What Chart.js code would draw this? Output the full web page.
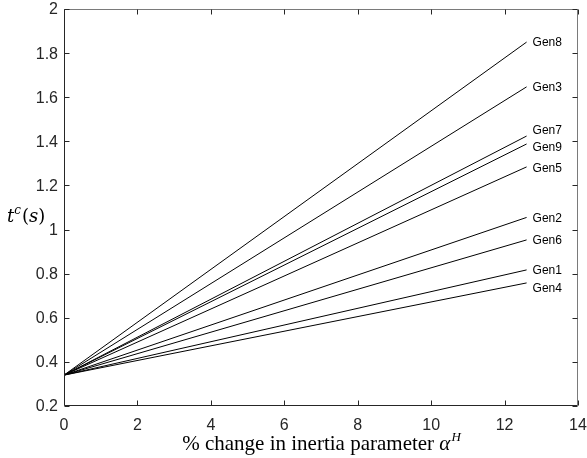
<!DOCTYPE html>
<html>
<head>
<meta charset="utf-8">
<script src="https://cdn.jsdelivr.net/npm/chart.js@4.4.0/dist/chart.umd.min.js"></script>
<style>
  html, body { margin: 0; padding: 0; background: #fff; }
  #wrap { width: 587px; height: 458px; }
</style>
</head>
<body>
<div id="wrap"><canvas id="chart"></canvas></div>
<script>
// generators and the end value of each line (start is shared)
const genNames = ['Gen8', 'Gen3', 'Gen7', 'Gen9', 'Gen5', 'Gen2', 'Gen6', 'Gen1', 'Gen4'];
const xStart = 0;
const xEnd = 12.6;
const yStart = 0.34;
const yEnd = [1.85, 1.647, 1.424, 1.388, 1.284, 1.055, 0.953, 0.817, 0.758];
const xTicks = [0, 2, 4, 6, 8, 10, 12, 14];
const yTicks = [0.2, 0.4, 0.6, 0.8, 1, 1.2, 1.4, 1.6, 1.8, 2];

const axisColor = '#262626';
// small vertical nudges (px) so close labels don't overlap
const labelNudge = { Gen7: -6, Gen9: 3, Gen5: 1, Gen4: 5 };

const datasets = genNames.map((name, i) => ({
  label: name,
  data: [{ x: xStart, y: yStart }, { x: xEnd, y: yEnd[i] }],
  borderColor: '#000',
  borderWidth: 1,
  pointRadius: 0,
  showLine: true,
  fill: false,
}));

// box, inward ticks, line labels and axis titles
const decor = {
  id: 'decor',
  afterDraw(chart) {
    const { ctx, chartArea: a, scales } = chart;
    const xs = scales.x, ys = scales.y;
    const L = a.left + 0.5, R = a.right - 0.5, T = a.top + 0.5, B = a.bottom - 0.5;
    ctx.save();
    ctx.lineWidth = 1;
    // top and right edges are lighter in the original
    ctx.strokeStyle = '#7a7a7a';
    ctx.beginPath();
    ctx.moveTo(L, T); ctx.lineTo(R, T); ctx.lineTo(R, B);
    ctx.stroke();
    ctx.strokeStyle = axisColor;
    ctx.beginPath();
    ctx.moveTo(L, T); ctx.lineTo(L, B); ctx.lineTo(R, B);
    ctx.stroke();
    const t = 5;
    ctx.beginPath();
    xTicks.forEach(v => {
      const px = Math.round(xs.getPixelForValue(v)) + 0.5;
      ctx.moveTo(px, B); ctx.lineTo(px, B - t);
      ctx.moveTo(px, T); ctx.lineTo(px, T + t);
    });
    yTicks.forEach(v => {
      const py = Math.round(ys.getPixelForValue(v)) + 0.5;
      ctx.moveTo(L, py); ctx.lineTo(L + t, py);
      ctx.moveTo(R, py); ctx.lineTo(R - t, py);
    });
    ctx.stroke();

    // tick labels
    ctx.fillStyle = axisColor;
    ctx.font = '16px "Liberation Sans", Arial, sans-serif';
    ctx.textAlign = 'center';
    ctx.textBaseline = 'alphabetic';
    xTicks.forEach(v => ctx.fillText(String(v), xs.getPixelForValue(v), a.bottom + 24));
    ctx.textAlign = 'right';
    ctx.textBaseline = 'middle';
    yTicks.forEach(v => ctx.fillText(String(v), a.left - 6, ys.getPixelForValue(v) + 1));

    // series labels at line ends
    ctx.fillStyle = '#000';
    ctx.font = '12px "Liberation Sans", Arial, sans-serif';
    ctx.textAlign = 'left';
    ctx.textBaseline = 'middle';
    genNames.forEach((name, i) => {
      const dy = labelNudge[name] || 0;
      ctx.fillText(name, xs.getPixelForValue(xEnd) + 6, ys.getPixelForValue(yEnd[i]) + 1 + dy);
    });

    // y title t^c(s)
    const yb = 222;
    ctx.fillStyle = '#000';
    ctx.textBaseline = 'alphabetic';
    ctx.textAlign = 'left';
    let x = 7;
    ctx.font = 'italic 18px "DejaVu Serif", "Liberation Serif", serif';
    ctx.fillText('t', x, yb); x += ctx.measureText('t').width;
    ctx.font = 'italic 12px "DejaVu Serif", "Liberation Serif", serif';
    ctx.fillText('c', x, yb - 8); x += ctx.measureText('c').width + 1;
    ctx.font = '18px "DejaVu Serif", "Liberation Serif", serif';
    ctx.fillText('(', x, yb); x += ctx.measureText('(').width;
    ctx.font = 'italic 18px "DejaVu Serif", "Liberation Serif", serif';
    ctx.fillText('s', x, yb); x += ctx.measureText('s').width;
    ctx.font = '18px "DejaVu Serif", "Liberation Serif", serif';
    ctx.fillText(')', x, yb);

    // x title
    const main = '% change in inertia parameter ';
    ctx.font = '21px "Liberation Serif", serif';
    const w1 = ctx.measureText(main).width;
    ctx.font = 'italic 21px "Liberation Serif", serif';
    const w2 = ctx.measureText('\u03b1').width;
    ctx.font = 'italic 13px "Liberation Serif", serif';
    const w3 = ctx.measureText('H').width;
    let sx = (a.left + a.right) / 2 - (w1 + w2 + w3) / 2;
    const by = 450;
    ctx.font = '21px "Liberation Serif", serif';
    ctx.fillText(main, sx, by); sx += w1;
    ctx.font = 'italic 21px "Liberation Serif", serif';
    ctx.fillText('\u03b1', sx, by); sx += w2 + 1;
    ctx.font = 'italic 13px "Liberation Serif", serif';
    ctx.fillText('H', sx, by - 9);
    ctx.restore();
  }
};

new Chart(document.getElementById('chart'), {
  type: 'scatter',
  data: { datasets },
  options: {
    responsive: true,
    maintainAspectRatio: false,
    animation: false,
    layout: { padding: { top: 9, right: 9, left: 0, bottom: 0 } },
    plugins: { legend: { display: false }, tooltip: { enabled: false } },
    scales: {
      x: {
        type: 'linear', min: 0, max: 14,
        grid: { display: false },
        border: { display: false },
        ticks: { display: false },
        afterFit: s => { s.height = 52; },
      },
      y: {
        type: 'linear', min: 0.2, max: 2,
        grid: { display: false },
        border: { display: false },
        ticks: { display: false },
        afterFit: s => { s.width = 64; },
      },
    },
  },
  plugins: [decor],
});
</script>
</body>
</html>
